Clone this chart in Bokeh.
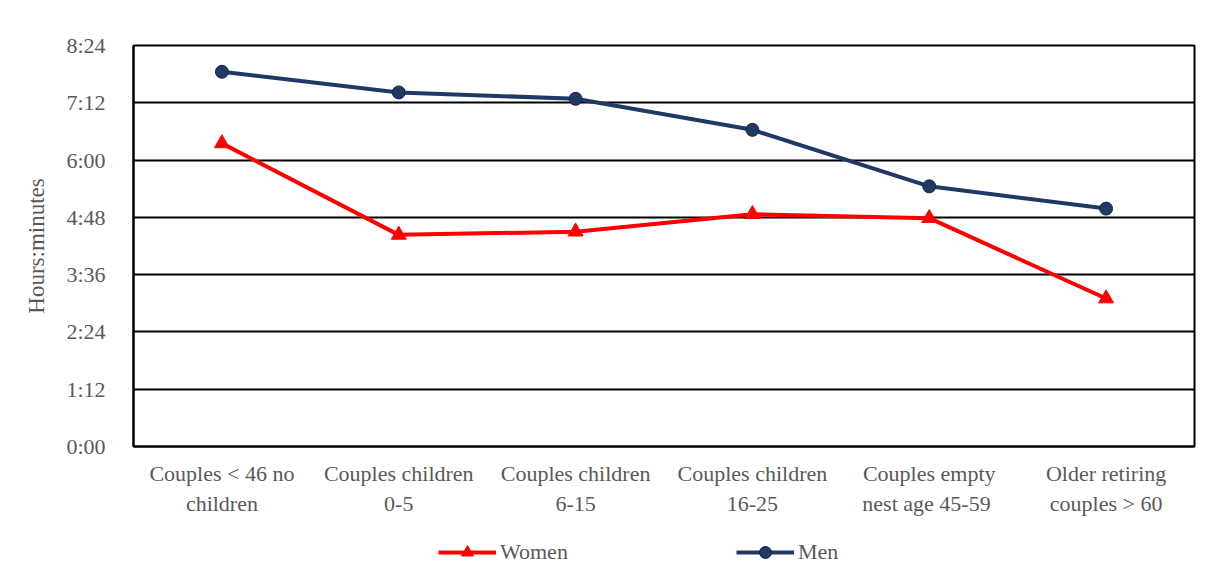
from bokeh.plotting import figure
from bokeh.layouts import column
from bokeh.models import FactorRange, FixedTicker, Legend, LegendItem, ColumnDataSource
from bokeh.embed import file_html
from bokeh.resources import INLINE

categories = ["Couples < 46 no\nchildren", "Couples children\n0-5", "Couples children\n6-15",
              "Couples children\n16-25", "Couples empty\nnest  age 45-59", "Older retiring\ncouples > 60"]
# values in minutes
women = [381, 266, 270, 292, 287, 186]
men = [471, 445, 437, 398, 327, 299]
y_ticks = [0, 72, 144, 216, 288, 360, 432, 504]
y_tick_labels = ["0:00", "1:12", "2:24", "3:36", "4:48", "6:00", "7:12", "8:24"]
series_names = ["Women", "Men"]

FONT = "Liberation Serif"
GRAY = "#595959"
NAVY = "#1F3864"
RED = "#FF0000"

p = figure(width=1222, height=530, x_range=FactorRange(*categories), y_range=(0, 504),
           output_backend="svg", toolbar_location=None,
           min_border_left=133, min_border_right=28, min_border_top=45, min_border_bottom=84)

p.background_fill_color = "white"
p.border_fill_color = "white"
p.outline_line_color = "black"
p.outline_line_width = 2

p.xgrid.grid_line_color = None
p.ygrid.grid_line_color = "black"
p.ygrid.grid_line_width = 2

p.yaxis.ticker = FixedTicker(ticks=y_ticks)
p.yaxis.major_label_overrides = {t: l for t, l in zip(y_ticks, y_tick_labels)}

for ax in (p.xaxis[0], p.yaxis[0]):
    ax.axis_line_color = "black"
    ax.axis_line_width = 2
    ax.major_tick_line_color = None
    ax.minor_tick_line_color = None
    ax.major_label_text_font = FONT
    ax.major_label_text_font_size = "22px"
    ax.major_label_text_color = GRAY

p.yaxis.major_label_standoff = 22
p.xaxis.major_label_standoff = 8
p.xaxis.major_label_text_line_height = 1.2
p.yaxis.axis_label = "Hours:minutes"
p.yaxis.axis_label_text_font = FONT
p.yaxis.axis_label_text_font_size = "23px"
p.yaxis.axis_label_text_font_style = "normal"
p.yaxis.axis_label_text_color = GRAY
p.yaxis.axis_label_standoff = 14

src = ColumnDataSource(dict(x=categories, women=women, men=men))

style_w = dict(line_color=RED, line_width=4)
style_wm = dict(marker="triangle", size=15, fill_color=RED, line_color=RED)
style_m = dict(line_color=NAVY, line_width=4)
style_mm = dict(marker="circle", size=13, fill_color=NAVY, line_color="#14264a", line_width=1)

p.line("x", "women", source=src, **style_w)
p.scatter("x", "women", source=src, **style_wm)
p.line("x", "men", source=src, **style_m)
p.scatter("x", "men", source=src, **style_mm)

# legend strip below the chart (its frame is aligned with the chart's frame)
lg = figure(width=1222, height=58, x_range=(0, 1), y_range=(0, 1),
            output_backend="svg", toolbar_location=None,
            x_axis_type=None, y_axis_type=None,
            min_border_left=133, min_border_right=28, min_border_top=0, min_border_bottom=0)
lg.outline_line_color = None
lg.xgrid.visible = False
lg.ygrid.visible = False
offscreen = ColumnDataSource(dict(x=[-10, -9], y=[-10, -9]))
lw = lg.line("x", "y", source=offscreen, **style_w)
lwm = lg.scatter("x", "y", source=offscreen, **style_wm)
lm = lg.line("x", "y", source=offscreen, **style_m)
lmm = lg.scatter("x", "y", source=offscreen, **style_mm)

legend = Legend(items=[LegendItem(label=series_names[0], renderers=[lw, lwm]),
                       LegendItem(label=series_names[1], renderers=[lm, lmm])],
                orientation="horizontal", location=(305, 21), margin=0, padding=4,
                glyph_width=58, glyph_height=30, label_standoff=4, spacing=168,
                label_text_font=FONT, label_text_font_size="22px", label_text_color=GRAY,
                border_line_color=None, background_fill_alpha=0)
lg.add_layout(legend, "center")

open("out.html", "w").write(file_html(column(p, lg, spacing=0), INLINE))
